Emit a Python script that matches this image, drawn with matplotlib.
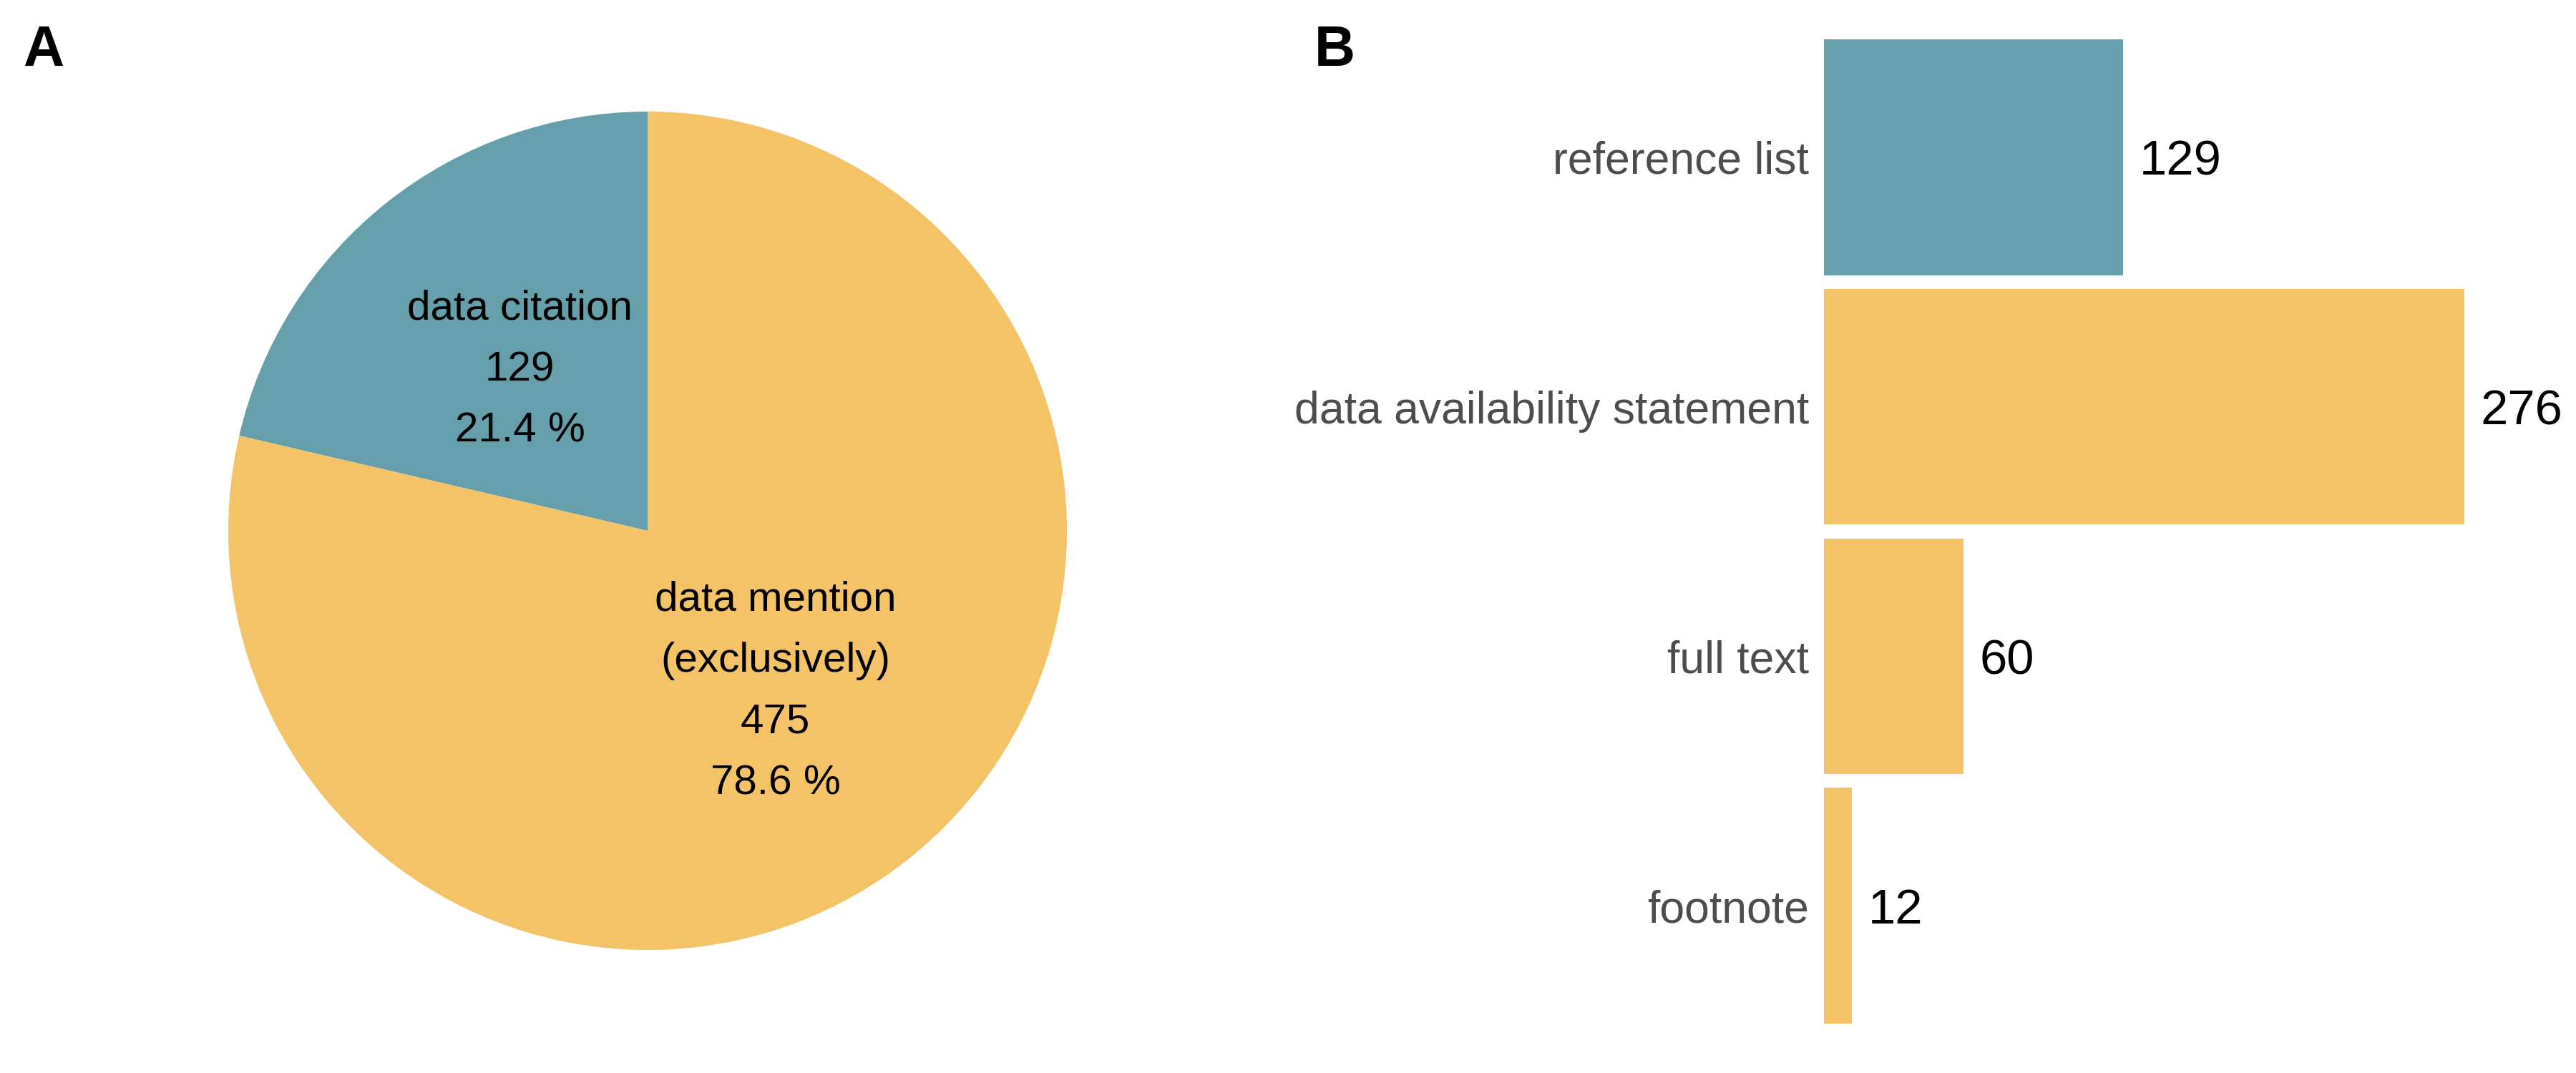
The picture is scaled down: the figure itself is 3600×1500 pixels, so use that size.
import matplotlib
matplotlib.use("Agg")
import matplotlib.pyplot as plt

plt.rcParams['font.family'] = ['Liberation Sans', 'DejaVu Sans']

## data ####################################################################

pie_names = ['data citation', 'data mention\n(exclusively)']
pie_counts = [129, 475]

bar_names = ['reference list', 'data availability statement', 'full text', 'footnote']
bar_counts = [129, 276, 60, 12]

teal = '#669FAC'
yellow = '#F4C367'
bar_colors = [teal, yellow, yellow, yellow]

W, H = 3600, 1500
fig = plt.figure(figsize=(12, 5), dpi=300)

## A : pie #################################################################

total = sum(pie_counts)
pie_labels = ['{}\n{}\n{:.1f} %'.format(n, c, 100 * c / total)
              for n, c in zip(pie_names, pie_counts)]

cx, cy, r = 905, 742, 586
ax1 = fig.add_axes([(cx - r) / W, (H - cy - r) / H, 2 * r / W, 2 * r / H])
ax1.pie(pie_counts, labels=pie_labels, colors=[teal, yellow], startangle=90,
        counterclock=True, radius=1, labeldistance=0.49,
        wedgeprops=dict(linewidth=0),
        textprops=dict(ha='center', va='center', fontsize=14,
                       linespacing=1.75, color='black'))
ax1.set_xlim(-1, 1)
ax1.set_ylim(-1, 1)
ax1.set_aspect('equal')
ax1.axis('off')

## B : bars ################################################################

left = 2549
xmax = 300
px_per_unit = (3444 - 2549) / 276.0
top, bottom = 45.5, 1440.5
ax2 = fig.add_axes([left / W, (H - bottom) / H,
                    xmax * px_per_unit / W, (bottom - top) / H])
ypos = list(range(len(bar_names)))
ax2.barh(ypos, bar_counts, height=0.945, color=bar_colors, linewidth=0)
for y, v in zip(ypos, bar_counts):
    ax2.text(v + 7, y, str(v), ha='left', va='center_baseline', fontsize=16.5,
             color='black')
ax2.set_xlim(0, xmax)
ax2.set_ylim(len(bar_names) - 0.5, -0.5)
ax2.set_yticks(ypos)
ax2.set_yticklabels(bar_names, fontsize=15, color='#4D4D4D')
ax2.tick_params(axis='y', length=0, pad=5)
ax2.set_xticks([])
for s in ax2.spines.values():
    s.set_visible(False)
ax2.patch.set_alpha(0)

## panel tags ##############################################################

fig.text(32 / W, 1 - 34 / H, 'A', fontsize=19, fontweight='bold', ha='left', va='top')
fig.text(1837 / W, 1 - 34 / H, 'B', fontsize=19, fontweight='bold', ha='left', va='top')

fig.savefig('out.png', dpi=300, facecolor='white')
